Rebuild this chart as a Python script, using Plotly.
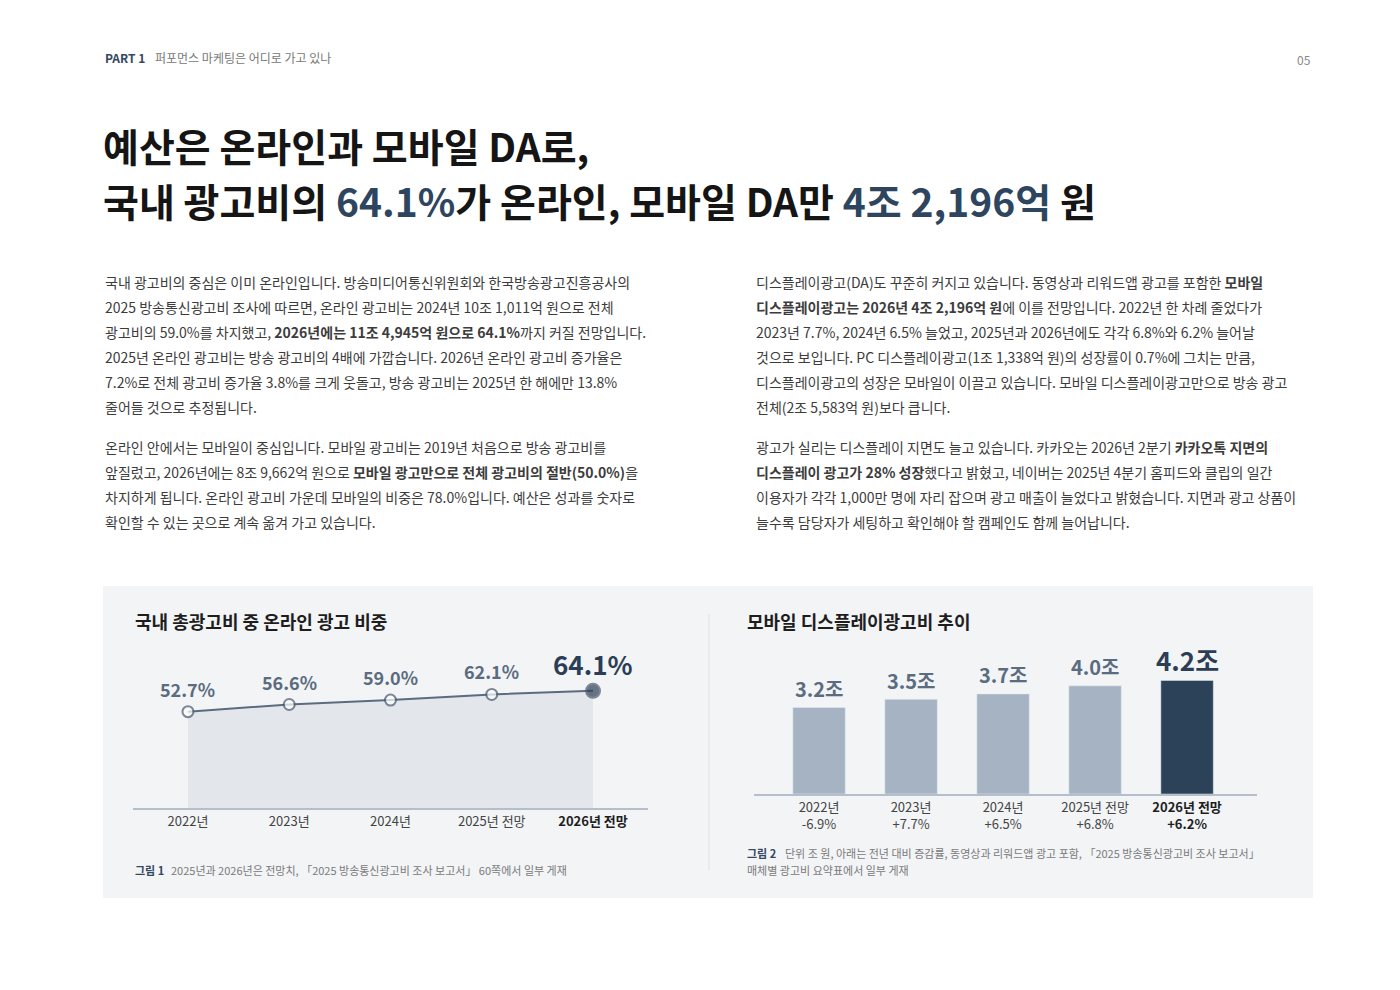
import plotly.graph_objects as go

FONT = "Noto Sans CJK KR"
W, H = 1400, 990

# ---- data ----
years = ["2022년", "2023년", "2024년", "2025년 전망", "2026년 전망"]
online_share = [52.7, 56.6, 59.0, 62.1, 64.1]
mobile_da = [3.2, 3.5, 3.7, 4.0, 4.2]
mobile_growth = ["-6.9%", "+7.7%", "+6.5%", "+6.8%", "+6.2%"]

left_p = [
    "국내 광고비의 중심은 이미 온라인입니다. 방송미디어통신위원회와 한국방송광고진흥공사의",
    "2025 방송통신광고비 조사에 따르면, 온라인 광고비는 2024년 10조 1,011억 원으로 전체",
    "광고비의 59.0%를 차지했고, <b>2026년에는 11조 4,945억 원으로 64.1%</b>까지 커질 전망입니다.",
    "2025년 온라인 광고비는 방송 광고비의 4배에 가깝습니다. 2026년 온라인 광고비 증가율은",
    "7.2%로 전체 광고비 증가율 3.8%를 크게 웃돌고, 방송 광고비는 2025년 한 해에만 13.8%",
    "줄어들 것으로 추정됩니다.",
    None,
    "온라인 안에서는 모바일이 중심입니다. 모바일 광고비는 2019년 처음으로 방송 광고비를",
    "앞질렀고, 2026년에는 8조 9,662억 원으로 <b>모바일 광고만으로 전체 광고비의 절반(50.0%)</b>을",
    "차지하게 됩니다. 온라인 광고비 가운데 모바일의 비중은 78.0%입니다. 예산은 성과를 숫자로",
    "확인할 수 있는 곳으로 계속 옮겨 가고 있습니다.",
]
right_p = [
    "디스플레이광고(DA)도 꾸준히 커지고 있습니다. 동영상과 리워드앱 광고를 포함한 <b>모바일</b>",
    "<b>디스플레이광고는 2026년 4조 2,196억 원</b>에 이를 전망입니다. 2022년 한 차례 줄었다가",
    "2023년 7.7%, 2024년 6.5% 늘었고, 2025년과 2026년에도 각각 6.8%와 6.2% 늘어날",
    "것으로 보입니다. PC 디스플레이광고(1조 1,338억 원)의 성장률이 0.7%에 그치는 만큼,",
    "디스플레이광고의 성장은 모바일이 이끌고 있습니다. 모바일 디스플레이광고만으로 방송 광고",
    "전체(2조 5,583억 원)보다 큽니다.",
    None,
    "광고가 실리는 디스플레이 지면도 늘고 있습니다. 카카오는 2026년 2분기 <b>카카오톡 지면의</b>",
    "<b>디스플레이 광고가 28% 성장</b>했다고 밝혔고, 네이버는 2025년 4분기 홈피드와 클립의 일간",
    "이용자가 각각 1,000만 명에 자리 잡으며 광고 매출이 늘었다고 밝혔습니다. 지면과 광고 상품이",
    "늘수록 담당자가 세팅하고 확인해야 할 캠페인도 함께 늘어납니다.",
]

def px(x): return x / W
def py(y): return 1 - y / H

fig = go.Figure()

# left chart: area + line
marker_colors = ["white"] * 4 + ["#2c3e55"]
marker_sizes = [11] * 4 + [14]
fig.add_trace(go.Scatter(
    x=years, y=online_share, mode="lines+markers", fill="tozeroy",
    fillcolor="#e3e7ec", line=dict(color="#5b6b80", width=2),
    marker=dict(color=marker_colors, size=marker_sizes,
                line=dict(color="#4a5a6e", width=2)),
    xaxis="x", yaxis="y", hoverinfo="skip", showlegend=False))

# right chart: bars
bar_colors = ["#a6b3c2"] * 4 + ["#2c4259"]
fig.add_trace(go.Bar(
    x=years, y=mobile_da, marker_color=bar_colors, width=0.57,
    xaxis="x2", yaxis="y2", hoverinfo="skip", showlegend=False))

ann = []
for i, (c, v) in enumerate(zip(years, online_share)):
    last = i == len(years) - 1
    ann.append(dict(x=c, y=v, xref="x", yref="y", text=f"<b>{v:.1f}%</b>",
                    showarrow=False, yshift=27 if last else 23,
                    font=dict(family=FONT, size=26 if last else 18,
                              color="#2c3e55" if last else "#5b6b80")))
for i, (c, v) in enumerate(zip(years, mobile_da)):
    last = i == len(years) - 1
    ann.append(dict(x=c, y=v, xref="x2", yref="y2", text=f"<b>{v:.1f}조</b>",
                    showarrow=False, yshift=21 if last else 19,
                    font=dict(family=FONT, size=26 if last else 20,
                              color="#2c3e55" if last else "#5b6b80")))

def txt(x, y, t, size, color="#333", anchor="left"):
    ann.append(dict(x=px(x), y=py(y), xref="paper", yref="paper", text=t,
                    showarrow=False, xanchor=anchor, yanchor="middle",
                    font=dict(family=FONT, size=size, color=color)))

# header
txt(95, 50, "<b>PART 1</b>", 12, "#34485e")
txt(145, 50, "퍼포먼스 마케팅은 어디로 가고 있나", 12, "#777")
txt(1305, 51, "05", 12, "#888", "right")

# title
txt(93, 137, "<b>예산은 온라인과 모바일 DA로,</b>", 39, "#151515")
txt(93, 192, "<b>국내 광고비의 <span style='color:#2e4560'>64.1%</span>가 온라인, 모바일 DA만 "
    "<span style='color:#2e4560'>4조 2,196억</span> 원</b>", 39, "#151515")

# body
for col_x, lines in ((95, left_p), (746, right_p)):
    y = 274
    for ln in lines:
        if ln is None:
            y += 15
            continue
        txt(col_x, y, ln, 14, "#3c3c3c")
        y += 25

# chart titles
txt(125, 613, "<b>국내 총광고비 중 온라인 광고 비중</b>", 18, "#1e1e1e")
txt(737, 613, "<b>모바일 디스플레이광고비 추이</b>", 18, "#1e1e1e")

# captions
txt(125, 862, "<b>그림 1</b>", 11, "#34485e")
txt(161, 862, "2025년과 2026년은 전망치, 「2025 방송통신광고비 조사 보고서」 60쪽에서 일부 게재", 11, "#7a7a7a")
txt(737, 845, "<b>그림 2</b>", 11, "#34485e")
txt(775, 845, "단위 조 원, 아래는 전년 대비 증감률, 동영상과 리워드앱 광고 포함, 「2025 방송통신광고비 조사 보고서」", 11, "#7a7a7a")
txt(737, 862, "매체별 광고비 요약표에서 일부 게재", 11, "#7a7a7a")

left_ticks = [y if i < 4 else f"<b><span style='color:#1e1e1e'>{y}</span></b>" for i, y in enumerate(years)]
right_ticks = [f"{y}<br>{g}" if i < 4 else f"<b><span style='color:#1e1e1e'>{y}<br>{g}</span></b>"
               for i, (y, g) in enumerate(zip(years, mobile_growth))]

shapes = [
    dict(type="rect", xref="paper", yref="paper", x0=px(95), x1=px(1305), y0=py(890), y1=py(578),
         fillcolor="#f2f4f6", line=dict(width=0), layer="below"),
    dict(type="line", xref="paper", yref="paper", x0=px(701), x1=px(701), y0=py(862), y1=py(606),
         line=dict(color="#dde1e6", width=1)),
]

fig.update_layout(
    width=W, height=H, margin=dict(l=0, r=0, t=0, b=0),
    paper_bgcolor="white", plot_bgcolor="rgba(0,0,0,0)",
    font=dict(family=FONT),
    xaxis=dict(domain=[px(125), px(640)], range=[-0.543, 4.543], tickmode="array",
               tickvals=years, ticktext=left_ticks, showgrid=False, zeroline=False,
               showline=True, linecolor="#b5bfcb", linewidth=2, ticks="",
               tickfont=dict(size=13, color="#444"), anchor="y", fixedrange=True),
    yaxis=dict(domain=[py(800), py(640)], range=[0, 87.5], visible=False, fixedrange=True),
    xaxis2=dict(domain=[px(746), px(1249)], range=[-0.707, 4.76], tickmode="array",
                tickvals=years, ticktext=right_ticks, showgrid=False, zeroline=False,
                showline=True, linecolor="#b5bfcb", linewidth=2, ticks="",
                tickfont=dict(size=13, color="#444"), anchor="y2", fixedrange=True),
    yaxis2=dict(domain=[py(786), py(640)], range=[0, 5.4], visible=False, fixedrange=True),
    annotations=ann, shapes=shapes,
)

fig.write_html("out.html")
